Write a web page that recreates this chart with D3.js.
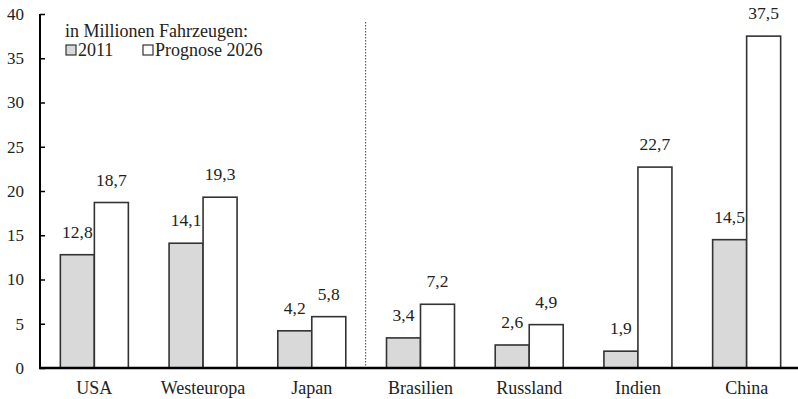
<!DOCTYPE html>
<html>
<head>
<meta charset="utf-8">
<script src="https://cdn.jsdelivr.net/npm/d3@7"></script>
<style>
  html, body { margin: 0; padding: 0; background: #fff; }
  svg { display: block; }
</style>
</head>
<body>
<svg id="chart" width="798" height="399"></svg>
<script>
// Fahrzeugbestand in Millionen
const categories = ["USA", "Westeuropa", "Japan", "Brasilien", "Russland", "Indien", "China"];
const values2011 = [12.8, 14.1, 4.2, 3.4, 2.6, 1.9, 14.5];
const values2026 = [18.7, 19.3, 5.8, 7.2, 4.9, 22.7, 37.5];
const seriesNames = ["2011", "Prognose 2026"];
const yTicks = [0, 5, 10, 15, 20, 25, 30, 35, 40];
const legendTitle = "in Millionen Fahrzeugen:";

(function () {
  const FONT = "'Liberation Serif', 'Times New Roman', serif";
  const svg = d3.select("#chart");
  const mLeft = 40, mRight = 801, mTop = 14, mBottom = 368;

  const x = d3.scaleBand().domain(categories).range([mLeft, mRight]).paddingInner(0).paddingOuter(0);
  const y = d3.scaleLinear().domain([0, 40]).range([mBottom, mTop]);
  const barW = 34;

  const fmt = v => String(v).replace(".", ",");
  const colors = ["#d9d9d9", "#ffffff"];
  const styleText = (sel, size) => sel.style("font-family", FONT).style("font-size", size + "px").style("fill", "#222");

  // Trennlinie zwischen Industrie- und Schwellenländern
  svg.append("line")
    .attr("x1", x("Brasilien") - 0.5).attr("x2", x("Brasilien") - 0.5)
    .attr("y1", 22).attr("y2", mBottom)
    .attr("stroke", "#444").attr("stroke-width", 1)
    .attr("stroke-dasharray", "1.5,1.5");

  // Balken mit Werten
  const groups = svg.append("g").selectAll("g").data(categories).join("g");
  [values2011, values2026].forEach((vals, s) => {
    groups.append("rect")
      .attr("x", (d) => x(d) + x.bandwidth() / 2 - barW + s * barW)
      .attr("y", (d, i) => y(vals[i]))
      .attr("width", barW)
      .attr("height", (d, i) => mBottom - y(vals[i]))
      .attr("fill", colors[s])
      .attr("stroke", "#333").attr("stroke-width", 1.6);
    groups.append("text")
      .attr("x", (d) => x(d) + x.bandwidth() / 2 - barW / 2 + s * barW)
      .attr("y", (d, i) => y(vals[i]) - 17)
      .attr("text-anchor", "middle")
      .call(styleText, 17.5)
      .text((d, i) => fmt(vals[i]));
  });

  // y-Achse
  const yAxis = d3.axisLeft(y).tickValues(yTicks).tickSize(0).tickPadding(0);
  const ya = svg.append("g").attr("transform", `translate(${mLeft},0)`).call(yAxis);
  ya.select(".domain").remove();
  ya.selectAll(".tick line").attr("x1", 0).attr("x2", 5).attr("stroke", "#000").attr("stroke-width", 1.5);
  ya.selectAll(".tick text")
    .attr("x", -16).attr("dy", "0.32em")
    .call(styleText, 17);
  svg.append("line").attr("x1", mLeft).attr("x2", mLeft).attr("y1", mTop).attr("y2", mBottom + 1)
    .attr("stroke", "#000").attr("stroke-width", 2);

  // x-Achse
  const xAxis = d3.axisBottom(x).tickSize(0).tickPadding(0);
  const xa = svg.append("g").attr("transform", `translate(0,${mBottom})`).call(xAxis);
  xa.select(".domain").remove();
  xa.selectAll(".tick text")
    .attr("y", 26).attr("dy", 0)
    .call(styleText, 18);
  svg.append("line").attr("x1", mLeft - 1).attr("x2", 798).attr("y1", mBottom).attr("y2", mBottom)
    .attr("stroke", "#000").attr("stroke-width", 2.5);

  // Legende
  svg.append("text").attr("x", 65).attr("y", 37).call(styleText, 18).text(legendTitle);
  const legendX = [66, 143];
  seriesNames.forEach((name, s) => {
    svg.append("rect").attr("x", legendX[s]).attr("y", 45).attr("width", 10).attr("height", 10)
      .attr("fill", colors[s]).attr("stroke", "#333").attr("stroke-width", 1.2);
    svg.append("text").attr("x", legendX[s] + 12).attr("y", 56).call(styleText, 18).text(name);
  });
})();
</script>
</body>
</html>
